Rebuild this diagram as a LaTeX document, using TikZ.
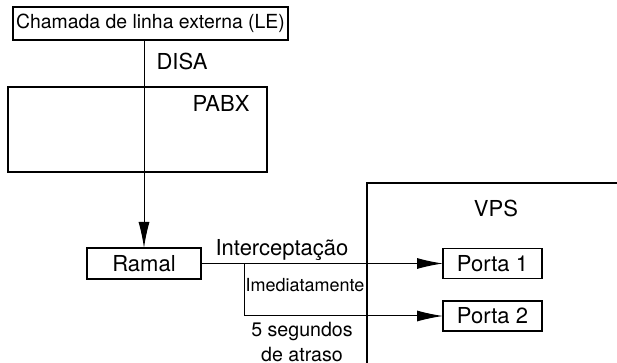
\documentclass[tikz,border=0pt]{standalone}
\usepackage{fontspec}
\setmainfont{TeX Gyre Heros}
\usetikzlibrary{arrows.meta}

\begin{document}
\begin{tikzpicture}[x=0.5pt,y=-0.5pt,
    font=\fontsize{11}{13}\selectfont,
    caixa/.style={draw,line width=0.6pt,inner sep=0pt,outer sep=0pt},
    seta/.style={line width=0.5pt,-{Latex[length=13pt,width=5.5pt]}}]
    \useasboundingbox (0,0) rectangle (617,363);

    \coordinate (LE) at (150.5,23.5);
    \coordinate (R) at (144,263.5);
    \coordinate (P1) at (492.5,263.5);
    \coordinate (P2) at (492.5,316);

    % Caixas
    \node[caixa,minimum width=137.5pt,minimum height=16.5pt,font=\fontsize{9.7}{11}\selectfont] (le) at (LE) {Chamada de linha externa (LE)};
    \node[caixa,minimum width=129.5pt,minimum height=42.5pt] (pabx) at (137.5,129.5) {};
    \node[caixa,minimum width=57pt,minimum height=15.5pt] (ramal) at (R) {Ramal};
    \node[caixa,minimum width=49.5pt,minimum height=15pt] (porta1) at (P1) {Porta 1};
    \node[caixa,minimum width=49.5pt,minimum height=15pt] (porta2) at (P2) {Porta 2};

    % VPS
    \draw[line width=0.6pt] (617,183) -- (367,183) -- (367,363);

    % Ligações
    \draw[seta] (ramal.north |- le.south) -- (ramal.north);
    \coordinate (bif) at (244,263.5);
    \draw[seta] (ramal.east) -- (porta1.west);
    \draw[seta] (bif) |- (porta2.west);

    % Textos
    \node[anchor=base] (disa) at (182,70) {DISA};
    \node[anchor=base] (pabxtxt) at (221,112) {PABX};
    \node[anchor=base] (vps) at (496,217) {VPS};
    \node[anchor=base] (intercep) at (282,256) {Interceptação};
    \node[anchor=base,font=\fontsize{9}{11}\selectfont] (imed) at (305,292) {Imediatamente};
    \node[anchor=north,inner sep=0pt,align=center,font=\fontsize{9.8}{12.5}\selectfont] (atraso) at (302,322) {5 segundos\\de atraso};
\end{tikzpicture}
\end{document}
